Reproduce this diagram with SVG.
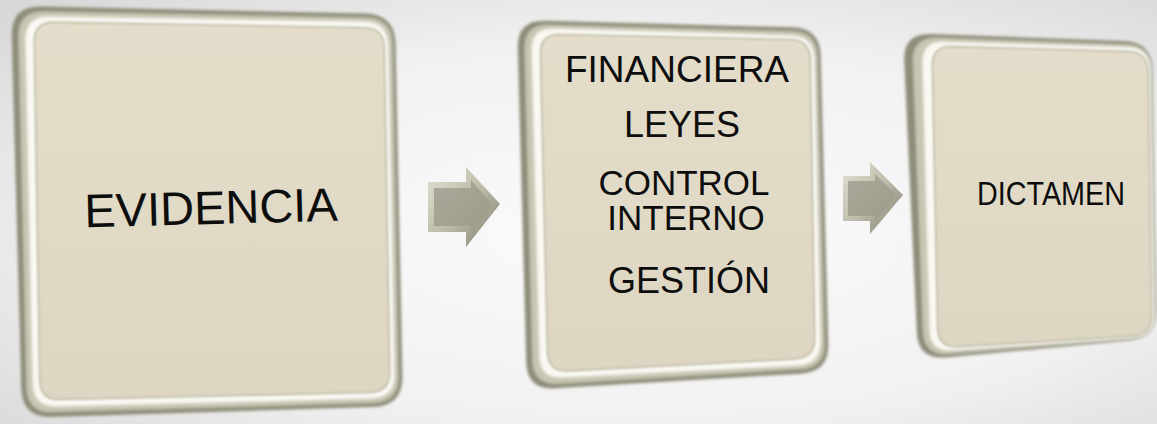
<svg xmlns="http://www.w3.org/2000/svg" width="1157" height="424" viewBox="0 0 1157 424">
  <defs>
    <radialGradient id="bg" cx="0.55" cy="0.55" r="0.75">
      <stop offset="0" stop-color="#fbfbfb"/>
      <stop offset="0.6" stop-color="#f1f1f1"/>
      <stop offset="1" stop-color="#d8d8d8"/>
    </radialGradient>
    <linearGradient id="gFace" x1="0" y1="0" x2="0" y2="1">
      <stop offset="0" stop-color="#e3ddca"/>
      <stop offset="1" stop-color="#ddd6c2"/>
    </linearGradient>
    <linearGradient id="gArrow" x1="0" y1="0" x2="1" y2="1">
      <stop offset="0" stop-color="#e4e2d3"/>
      <stop offset="0.5" stop-color="#bdbba9"/>
      <stop offset="1" stop-color="#7f7d6b"/>
    </linearGradient>
    <linearGradient id="gArrowFace" x1="0" y1="0" x2="1" y2="1">
      <stop offset="0" stop-color="#aaa898"/>
      <stop offset="1" stop-color="#9c9a89"/>
    </linearGradient>
    <filter id="soft" x="-5%" y="-5%" width="110%" height="110%">
      <feGaussianBlur stdDeviation="1.6"/>
    </filter>
    <filter id="soft2" x="-5%" y="-5%" width="110%" height="110%">
      <feGaussianBlur stdDeviation="0.8"/>
    </filter>
  </defs>
  <style>
    .edge { fill: #8f8d79; }
    .mid { fill: #c8c6b3; }
    .rim { fill: #f9f8f2; }
    .face { fill: url(#gFace); stroke: #bcb8a4; stroke-width: 1.5; }
    .lbl { font-family: "Liberation Sans", Arial, sans-serif; fill: #0d0d0d; text-anchor: middle; }
    .arrowOut { fill: url(#gArrow); }
    .arrowIn { fill: url(#gArrowFace); }
  </style>

  <rect x="0" y="0" width="1157" height="424" fill="url(#bg)"/>

  <g id="node-evidencia">
    <g filter="url(#soft)">
      <path class="edge" d="M 41,6.6 L 365,13.4 Q 395,14 395.6,44 L 402.4,376 Q 403,406 373,407 L 52,417 Q 22,418 21.3,388 L 11.7,36 Q 11,6 41,6.6 Z"/>
      <path class="mid" d="M 44,11.5 L 366,17.5 Q 392,18 392.5,44 L 398.5,376 Q 399,402 373,403 L 53,412 Q 27,413 26.5,387 L 18.5,37 Q 18,11 44,11.5 Z"/>
      <path class="rim" d="M 49,16.4 L 364,21.6 Q 388,22 388.4,46 L 394.6,374 Q 395,398 371,398.6 L 57,406.4 Q 33,407 32.6,383 L 25.4,40 Q 25,16 49,16.4 Z"/>
    </g>
    <path class="face" filter="url(#soft2)" d="M 54,22.3 L 364,27.7 Q 384,28 384.3,48 L 389.7,372 Q 390,392 370,392.5 L 60,399.5 Q 40,400 39.7,380 L 34.3,42 Q 34,22 54,22.3 Z"/>
    <text class="lbl" x="211" y="224" font-size="47" transform="rotate(-1.5 211 210)">EVIDENCIA</text>
  </g>

  <g id="node-areas">
    <g filter="url(#soft)">
      <path class="edge" d="M 545,20.7 L 792,27.3 Q 820,28 820.7,56 L 828.3,344 Q 829,372 801,373.7 L 555,388.3 Q 527,390 526.2,362 L 517.8,48 Q 517,20 545,20.7 Z"/>
      <path class="mid" d="M 549,24.7 L 792,31.3 Q 817,32 817.6,57 L 824.4,343 Q 825,368 800,369.3 L 558,383.7 Q 533,385 532.4,360 L 524.6,49 Q 524,24 549,24.7 Z"/>
      <path class="rim" d="M 554,28.6 L 791,35.4 Q 814,36 814.5,59 L 820.5,341 Q 821,364 798,365.5 L 563,377.5 Q 540,379 539.4,356 L 531.6,51 Q 531,28 554,28.6 Z"/>
    </g>
    <path class="face" filter="url(#soft2)" d="M 560,34.4 L 790,39.6 Q 810,40 810.3,60 L 814.7,338 Q 815,358 795,359 L 568,371 Q 548,372 547.5,352 L 540.5,54 Q 540,34 560,34.4 Z"/>
    <text class="lbl" x="677" y="82" font-size="37">FINANCIERA</text>
    <text class="lbl" x="682" y="137" font-size="36">LEYES</text>
    <text class="lbl" x="684" y="195" font-size="35">CONTROL</text>
    <text class="lbl" x="686" y="230" font-size="35">INTERNO</text>
    <text class="lbl" x="689" y="293" font-size="36">GESTIÓN</text>
  </g>

  <g id="node-dictamen">
    <g filter="url(#soft)">
      <path class="edge" d="M 931,34 L 1124,41 Q 1152,42 1152.5,70 L 1156.5,310 Q 1157,338 1129,340.6 L 946,357.4 Q 918,360 916.8,332 L 904.2,61 Q 903,33 931,34 Z"/>
      <path class="mid" d="M 937,37.8 L 1126,44.2 Q 1151,45 1151.4,70 L 1155.6,312 Q 1156,337 1131,339 L 949,354 Q 924,356 923,331 L 913,62 Q 912,37 937,37.8 Z"/>
      <path class="rim" d="M 944,41.7 L 1128,47.3 Q 1150,48 1150.3,70 L 1153.7,314 Q 1154,336 1132,337.8 L 952,350.2 Q 930,352 929.5,330 L 922.5,63 Q 922,41 944,41.7 Z"/>
    </g>
    <path class="face" filter="url(#soft2)" d="M 952,46.6 L 1128,51.4 Q 1148,52 1148.3,72 L 1151.7,315 Q 1152,335 1132,336.2 L 958,346.8 Q 938,348 937.6,328 L 932.4,66 Q 932,46 952,46.6 Z"/>
    <text class="lbl" x="1051" y="205" font-size="33" textLength="148" lengthAdjust="spacingAndGlyphs">DICTAMEN</text>
  </g>

  <g id="connectors">
    <g id="arrow-1">
      <polygon class="arrowOut" points="428,182 466,182 466,167 500,204 466,247 466,232 428,232"/>
      <polygon class="arrowIn" points="434,188 471,188 471,180 492,204 471,236 471,226 434,226"/>
    </g>
    <g id="arrow-2">
      <polygon class="arrowOut" points="843,176 870,176 870,162 903,195 870,234 870,221 843,221"/>
      <polygon class="arrowIn" points="848,181 875,181 875,174 896,195 875,222 875,216 848,216"/>
    </g>
  </g>
</svg>
